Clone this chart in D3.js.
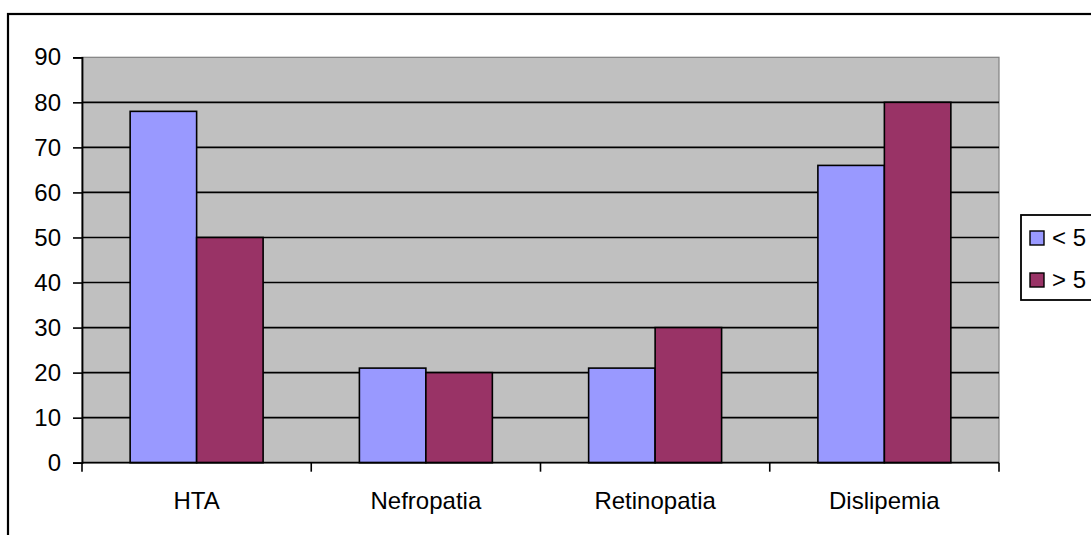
<!DOCTYPE html>
<html>
<head>
<meta charset="utf-8">
<script src="https://cdn.jsdelivr.net/npm/d3@7"></script>
<style>
  html, body { margin: 0; padding: 0; background: #fff; }
  svg { display: block; }
  text { font-family: "Liberation Sans", Arial, sans-serif; fill: #000; }
</style>
</head>
<body>
<svg id="chart" width="1091" height="535"></svg>
<script>
// Chart data
const categories = ["HTA", "Nefropatia", "Retinopatia", "Dislipemia"];
const seriesNames = ["< 5", "> 5"];
const seriesLess5 = [78, 21, 21, 66];
const seriesMore5 = [50, 20, 30, 80];
const yTicks = [0, 10, 20, 30, 40, 50, 60, 70, 80, 90];
const colors = ["#9999FF", "#993366"];

const svg = d3.select("#chart");
const W = 1091, H = 535;
const fontSize = 24;

// outer chart frame (runs past the right and bottom edges)
svg.append("rect")
  .attr("x", 8).attr("y", 14)
  .attr("width", W + 20).attr("height", H + 20)
  .attr("fill", "#fff").attr("stroke", "#000").attr("stroke-width", 2.2);

// plot area
const plot = { left: 82, right: 999, top: 57.3, bottom: 462.7 };

const y = d3.scaleLinear().domain([0, 90]).range([plot.bottom, plot.top]);
const x0 = d3.scaleBand().domain(categories).range([plot.left, plot.right]).padding(0);
const bw = x0.bandwidth();
const x1 = d3.scaleBand().domain(seriesNames).range([bw * 0.21, bw * 0.79]).padding(0);

const values = [seriesLess5, seriesMore5];

svg.append("rect")
  .attr("x", plot.left).attr("y", plot.top)
  .attr("width", plot.right - plot.left).attr("height", plot.bottom - plot.top)
  .attr("fill", "#C0C0C0").attr("stroke", "#808080").attr("stroke-width", 1.2);

// horizontal gridlines
svg.append("g")
  .selectAll("line")
  .data(yTicks.filter(d => d > 0 && d < 90))
  .join("line")
  .attr("x1", plot.left).attr("x2", plot.right)
  .attr("y1", d => y(d)).attr("y2", d => y(d))
  .attr("stroke", "#000").attr("stroke-width", 1.7);

// bars
const groups = svg.append("g")
  .selectAll("g")
  .data(categories)
  .join("g")
  .attr("transform", d => `translate(${x0(d)},0)`);

groups.selectAll("rect")
  .data((d, i) => seriesNames.map((s, j) => ({ s, v: values[j][i], j })))
  .join("rect")
  .attr("x", d => x1(d.s))
  .attr("width", x1.bandwidth())
  .attr("y", d => y(d.v))
  .attr("height", d => y(0) - y(d.v))
  .attr("fill", d => colors[d.j])
  .attr("stroke", "#000").attr("stroke-width", 1.6);

// y axis
const yAxis = svg.append("g")
  .attr("transform", `translate(${plot.left},0)`)
  .call(d3.axisLeft(y).tickValues(yTicks).tickSize(9).tickPadding(12));
yAxis.select(".domain").attr("stroke", "#000").attr("stroke-width", 1.8);
yAxis.selectAll(".tick line").attr("stroke", "#000").attr("stroke-width", 1.6);
yAxis.selectAll(".tick text")
  .attr("font-size", fontSize)
  .attr("font-family", "'Liberation Sans', Arial, sans-serif");

// x axis baseline with tick marks at category boundaries
const xAxis = svg.append("g")
  .attr("transform", `translate(0,${plot.bottom})`);
xAxis.append("line")
  .attr("x1", plot.left).attr("x2", plot.right)
  .attr("stroke", "#000").attr("stroke-width", 1.8);
const boundaries = categories.map(c => x0(c)).concat([x0.range()[1]]);
xAxis.selectAll("line.bound")
  .data(boundaries)
  .join("line")
  .attr("class", "bound")
  .attr("x1", d => d).attr("x2", d => d)
  .attr("y1", 0).attr("y2", 9)
  .attr("stroke", "#000").attr("stroke-width", 1.6);
xAxis.selectAll("text")
  .data(categories)
  .join("text")
  .attr("x", d => x0(d) + bw / 2)
  .attr("y", 46)
  .attr("text-anchor", "middle")
  .attr("font-size", fontSize)
  .text(d => d);

// legend
const legend = svg.append("g");
legend.append("rect")
  .attr("x", 1021).attr("y", 215)
  .attr("width", 120).attr("height", 85)
  .attr("fill", "#fff").attr("stroke", "#000").attr("stroke-width", 1.8);
const items = legend.selectAll("g.item")
  .data(seriesNames)
  .join("g")
  .attr("class", "item")
  .attr("transform", (d, i) => `translate(1030,${231 + i * 42})`);
items.append("rect")
  .attr("width", 14).attr("height", 14)
  .attr("fill", (d, i) => colors[i])
  .attr("stroke", "#000").attr("stroke-width", 1.4);
items.append("text")
  .attr("x", 22).attr("y", 7)
  .attr("dy", "0.35em")
  .attr("font-size", fontSize)
  .text(d => d);
</script>
</body>
</html>
